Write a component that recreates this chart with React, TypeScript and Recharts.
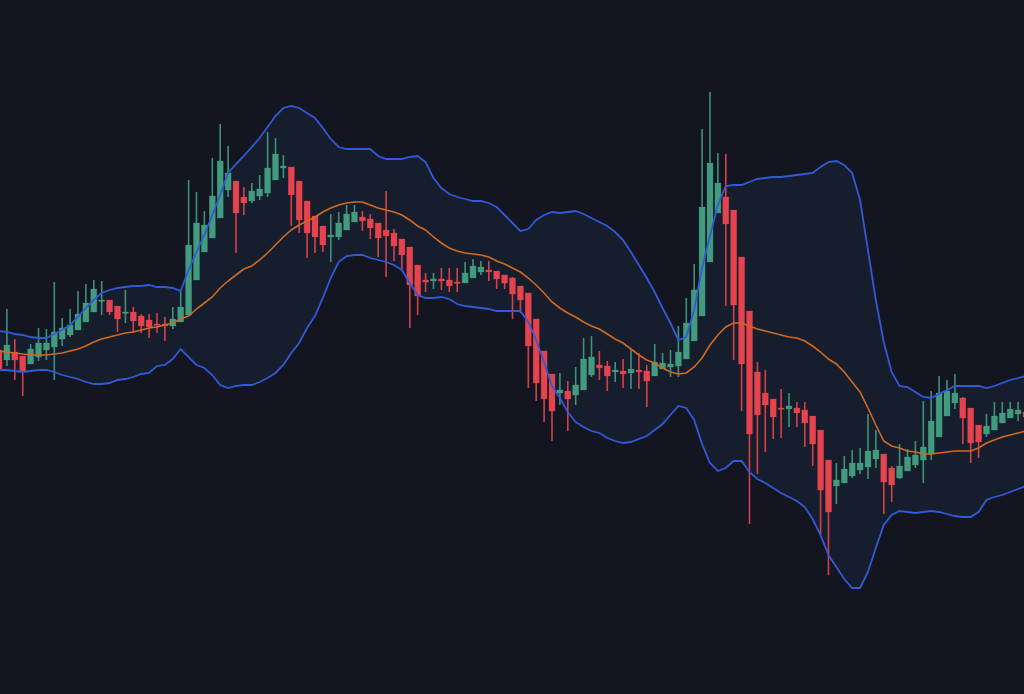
import React from "react";
import { ComposedChart, Area, Line, Bar, XAxis, YAxis } from "recharts";

const opens = [344,334,342,338,330,337,344,347,355,359,364,372,382,393,394,388,381,382,378,374,370,370,368,372,379,414,442,456,476,504,513,497,493,498,501,514,526,527,513,493,478,468,457,457,464,472,477,475,471,464,461,455,447,429,414,413,415,414,412,411,416,422,424,423,419,416,408,401,375,343,320,301,303,299,304,319,329,328,322,323,321,324,323,318,325,327,328,335,353,378,432,481,497,484,437,383,322,301,295,286,285,286,284,278,264,234,208,211,218,224,227,235,240,226,216,223,229,234,240,257,278,291,296,286,269,260,264,271,276,280,282];
const closes = [324,349,334,323,345,351,351,362,366,369,380,391,405,394,382,375,382,373,368,367,369,368,375,387,449,471,469,498,533,521,481,491,503,505,526,540,528,499,474,461,457,449,459,471,480,482,473,466,456,458,448,439,409,398,412,415,413,408,411,421,428,427,422,415,411,400,394,348,311,295,283,304,295,309,335,337,326,318,324,320,325,322,313,332,331,330,342,371,404,487,531,511,470,389,330,260,279,289,277,285,288,281,271,250,204,182,214,225,231,231,243,244,212,209,228,237,239,247,273,301,303,301,276,251,252,268,278,281,285,284,277];
const highs = [354,385,355,338,350,366,365,412,376,385,403,410,414,413,394,388,404,387,380,380,381,377,387,402,514,502,483,536,570,548,513,507,511,519,562,556,539,527,513,493,478,468,480,482,489,489,483,480,471,503,465,455,447,429,421,421,426,426,426,432,435,433,433,423,419,417,408,401,375,343,320,321,313,327,356,358,343,333,332,335,345,341,329,350,341,344,368,396,430,565,602,541,540,484,437,383,332,324,295,305,301,292,292,278,264,234,231,238,244,246,280,264,240,228,250,245,253,293,303,318,314,320,297,286,269,280,292,292,292,292,294];
const lows = [319,328,314,298,330,333,334,314,348,357,364,372,382,379,379,362,371,361,361,356,361,353,365,372,379,414,442,456,476,497,441,479,491,494,497,514,516,468,461,436,441,442,432,454,464,472,463,455,437,417,433,425,366,379,402,405,404,402,402,411,416,419,413,405,405,375,381,306,293,272,253,289,263,289,304,317,314,303,312,306,305,305,287,318,325,317,317,335,353,378,432,481,388,334,283,170,220,242,255,256,267,267,247,228,159,119,190,211,216,220,215,226,180,192,215,223,226,211,234,257,278,285,250,231,236,257,264,271,276,273,269];
const upperBand = [363,362,360,359,357,356,356,360,364,369,377,386,394,401,404,406,407,408,408,409,407,407,406,403,424,442,459,479,499,521,530,538,547,556,567,578,586,588,586,581,576,566,555,547,545,545,545,545,538,535,535,535,537,538,532,516,506,500,497,495,493,493,491,487,479,471,463,465,474,479,482,481,482,483,480,476,472,468,462,454,442,429,416,402,386,371,354,357,384,426,458,489,508,509,509,512,515,516,517,517,518,519,520,521,527,532,533,529,521,494,444,394,352,322,308,307,302,297,296,300,304,308,308,308,308,306,308,311,314,316,318];
const lowerBand = [324,324,323,322,323,324,324,322,319,317,315,312,310,310,311,314,315,317,320,321,328,329,335,345,337,329,326,319,309,306,308,309,309,312,316,321,329,341,351,366,378,396,416,432,438,439,439,436,434,432,429,424,411,399,396,396,397,395,390,388,387,386,385,383,383,383,383,372,354,332,308,296,282,272,267,263,261,256,253,251,252,255,258,264,270,279,288,286,274,250,231,223,226,233,233,222,215,211,206,201,197,193,187,175,159,139,127,115,106,106,122,146,169,179,183,182,181,182,183,182,180,178,177,177,182,194,197,199,202,205,208];
const middleBand = [343,342,341,340,339,339,339,340,341,343,345,348,352,355,357,359,361,362,364,366,367,369,371,375,378,385,391,397,406,413,419,425,428,434,441,449,457,464,469,473,477,482,486,489,491,492,492,489,486,484,482,479,474,468,464,457,451,446,443,441,440,439,437,433,430,426,422,416,409,401,392,386,381,377,372,368,365,360,355,351,345,339,334,331,326,322,320,321,327,336,349,359,367,371,371,368,365,363,361,359,357,356,353,348,342,335,330,322,312,302,286,269,253,248,246,243,242,240,240,241,242,243,243,243,246,251,254,257,259,261,263];

const data = opens.map((open, i) => ({
  i,
  open,
  close: closes[i],
  high: highs[i],
  low: lows[i],
  wick: [lows[i], highs[i]],
  upper: upperBand[i],
  lower: lowerBand[i],
  middle: middleBand[i],
  band: [lowerBand[i], upperBand[i]],
}));

const UP = "#439b7f";
const DOWN = "#e5444e";

function Candle(props: any) {
  const { x, y, width, height, payload } = props;
  const { open, close, high, low } = payload;
  const k = height / (high - low || 1);
  const top = y + (high - Math.max(open, close)) * k;
  const bodyH = Math.max(Math.abs(open - close) * k, 1.4);
  const color = close >= open ? UP : DOWN;
  const cx = x + width / 2;
  return (
    <g>
      <rect x={cx - 0.8} y={y} width={1.6} height={height} fill={color} opacity={0.92} />
      <rect x={cx - 3} y={top} width={6} height={bodyH} fill={color} stroke={color} strokeOpacity={0.45} strokeWidth={0.6} />
    </g>
  );
}

export default function App() {
  return (
    <div style={{ position: "absolute", left: 0, top: 0, width: 1024, height: 694, overflow: "hidden", background: "#131621" }}>
      <div style={{ position: "absolute", left: -5.25, top: 0 }}>
        <ComposedChart width={1034.9} height={694} data={data} margin={{ top: 0, right: 0, bottom: 0, left: 0 }}>
          <XAxis dataKey="i" hide />
          <YAxis hide domain={[0, 694]} />
          <Area dataKey="band" type="linear" stroke="none" fill="#161d2d" fillOpacity={1} dot={false} activeDot={false} isAnimationActive={false} />
          <Line dataKey="upper" type="linear" stroke="#3159d8" strokeWidth={1.8} dot={false} activeDot={false} isAnimationActive={false} />
          <Line dataKey="lower" type="linear" stroke="#3159d8" strokeWidth={1.8} dot={false} activeDot={false} isAnimationActive={false} />
          <Line dataKey="middle" type="linear" stroke="#cf6a23" strokeWidth={1.6} dot={false} activeDot={false} isAnimationActive={false} />
          <Bar dataKey="wick" barSize={6} shape={Candle} activeBar={false} isAnimationActive={false} />
        </ComposedChart>
      </div>
    </div>
  );
}
